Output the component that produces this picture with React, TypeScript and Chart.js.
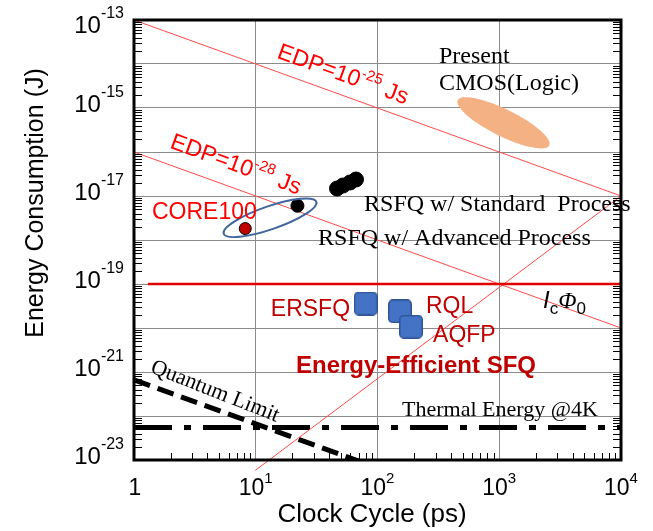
import React, { useEffect, useRef } from "react";
import { Chart, registerables } from "chart.js";

Chart.register(...registerables);

const W = 653;
const H = 531;

// ---- axis decades / tick labels ----
const xDecadeExps = [0, 1, 2, 3, 4];
const yDecadeExps = [-23, -22, -21, -20, -19, -18, -17, -16, -15, -14, -13];
const yLabelExps = [-23, -21, -19, -17, -15, -13];

// ---- reference lines (clock cycle ps, energy J) ----
const edp25X = [1, 1e4];
const edp25Y = [1e-13, 1e-17];
const edp28X = [1, 1e4];
const edp28Y = [1e-16, 1e-20];
const icPhiX = [1.3, 1e4];
const icPhiY = [1e-19, 1e-19];
const riseX = [9.9, 1e4];
const riseY = [5.8e-24, 1e-17];
const thermalX = [1, 1e4];
const thermalY = [5.5e-23, 5.5e-23];
const quantumX = [1, 100];
const quantumY = [6.6e-22, 6.6e-24];

// ---- data points ----
const coreX = [8.2];
const coreY = [1.82e-18];
const rsfqX = [22, 46.5, 52, 59.5, 66.6];
const rsfqY = [6e-18, 1.48e-17, 1.73e-17, 2.03e-17, 2.37e-17];
const effNames = ["ERSFQ", "RQL", "AQFP"];
const effX = [80, 153, 188];
const effY = [3.6e-20, 2.4e-20, 1.07e-20];

// ---- regions (centres in data units) ----
const cmosCenter = [1084, 4.6e-16];
const rsfqRegionCenter = [13.1, 3.2e-18];

const SANS = '"Liberation Sans", Arial, sans-serif';
const SERIF = '"Liberation Serif", "Times New Roman", serif';

type Part = { t: string; font: string; dy: number };

function drawParts(ctx: CanvasRenderingContext2D, parts: Part[], x: number, y: number, align: "left" | "right" | "center") {
  const widths = parts.map((p) => {
    ctx.font = p.font;
    return ctx.measureText(p.t).width;
  });
  const total = widths.reduce((s, w) => s + w, 0);
  let start = align === "left" ? x : align === "right" ? x - total : x - total / 2;
  ctx.textAlign = "left";
  ctx.textBaseline = "alphabetic";
  parts.forEach((p, i) => {
    ctx.font = p.font;
    ctx.fillText(p.t, start, y + p.dy);
    start += widths[i];
  });
}

function zip(xs: number[], ys: number[]) {
  return xs.map((x, i) => ({ x, y: ys[i] }));
}

function makeRoundedSquare(size: number, r: number, fill: string, stroke: string, lw: number) {
  const c = document.createElement("canvas");
  c.width = size;
  c.height = size;
  const g = c.getContext("2d")!;
  g.beginPath();
  (g as any).roundRect(lw / 2, lw / 2, size - lw, size - lw, r);
  g.fillStyle = fill;
  g.fill();
  g.lineWidth = lw;
  g.strokeStyle = stroke;
  g.stroke();
  return c;
}

const overlay = {
  id: "overlay",
  beforeDatasetsDraw(chart: any) {
    const { ctx, scales } = chart;
    const x = scales.x;
    const y = scales.y;
    ctx.save();
    // CMOS region
    ctx.fillStyle = "#F4B183";
    ctx.beginPath();
    ctx.ellipse(x.getPixelForValue(cmosCenter[0]), y.getPixelForValue(cmosCenter[1]), 51, 13.5, (26.3 * Math.PI) / 180, 0, Math.PI * 2);
    ctx.fill();
    ctx.restore();
  },
  afterDatasetsDraw(chart: any) {
    const { ctx, scales } = chart;
    const x = scales.x;
    const y = scales.y;
    ctx.save();
    // RSFQ region outline
    ctx.strokeStyle = "#3F649E";
    ctx.lineWidth = 2;
    ctx.beginPath();
    ctx.ellipse(x.getPixelForValue(rsfqRegionCenter[0]), y.getPixelForValue(rsfqRegionCenter[1]), 49, 11.5, (-19 * Math.PI) / 180, 0, Math.PI * 2);
    ctx.stroke();
    ctx.restore();
  },
  afterDraw(chart: any) {
    const { ctx, chartArea: a, scales } = chart;
    const x = scales.x;
    const y = scales.y;
    const px = (v: number) => x.getPixelForValue(v);
    const py = (v: number) => y.getPixelForValue(v);
    ctx.save();

    // minor ticks
    ctx.strokeStyle = "#000";
    ctx.lineWidth = 1;
    ctx.beginPath();
    for (let e = -23; e < -13; e++) {
      for (let m = 2; m <= 9; m++) {
        const yy = Math.round(py(m * Math.pow(10, e))) + 0.5;
        ctx.moveTo(a.left, yy);
        ctx.lineTo(a.left + 8, yy);
        ctx.moveTo(a.right, yy);
        ctx.lineTo(a.right - 8, yy);
      }
    }
    for (let e = 0; e < 4; e++) {
      for (let m = 2; m <= 9; m++) {
        const xx = Math.round(px(m * Math.pow(10, e))) + 0.5;
        ctx.moveTo(xx, a.bottom);
        ctx.lineTo(xx, a.bottom - 7);
      }
    }
    ctx.stroke();

    // frame
    ctx.lineWidth = 3;
    ctx.strokeStyle = "#000";
    ctx.strokeRect(a.left, a.top, a.right - a.left, a.bottom - a.top);

    // tick labels
    ctx.fillStyle = "#000";
    yLabelExps.forEach((e) => {
      const yy = Math.max(py(Math.pow(10, e)) + 4, a.top + 13);
      drawParts(
        ctx,
        [
          { t: "10", font: `24px ${SANS}`, dy: 0 },
          { t: String(e), font: `16px ${SANS}`, dy: -15 },
        ],
        a.left - 10,
        yy,
        "right"
      );
    });
    xDecadeExps.forEach((e) => {
      const xx = px(Math.pow(10, e));
      if (e === 0) drawParts(ctx, [{ t: "1", font: `23px ${SANS}`, dy: 0 }], xx + 1, a.bottom + 35, "center");
      else
        drawParts(
          ctx,
          [
            { t: "10", font: `23px ${SANS}`, dy: 0 },
            { t: String(e), font: `15px ${SANS}`, dy: -12 },
          ],
          xx,
          a.bottom + 35,
          "center"
        );
    });

    // axis titles
    ctx.font = `26px ${SANS}`;
    ctx.textAlign = "center";
    ctx.textBaseline = "alphabetic";
    ctx.fillText("Clock Cycle (ps)", 372, a.bottom + 62);
    ctx.save();
    ctx.translate(43, 203);
    ctx.rotate(-Math.PI / 2);
    ctx.font = `25px ${SANS}`;
    ctx.fillText("Energy Consumption (J)", 0, 0);
    ctx.restore();

    // annotations
    const red = "#FF0000";
    const dark = "#C00000";
    // EDP labels
    const edpLabel = (vx: number, vy: number, exp: string) => {
      ctx.save();
      ctx.translate(px(vx), py(vy));
      ctx.rotate((20 * Math.PI) / 180);
      ctx.fillStyle = red;
      drawParts(
        ctx,
        [
          { t: "EDP=10", font: `23px ${SANS}`, dy: 0 },
          { t: exp, font: `15px ${SANS}`, dy: -10 },
          { t: " Js", font: `23px ${SANS}`, dy: 0 },
        ],
        0,
        0,
        "left"
      );
      ctx.restore();
    };
    edpLabel(14.7, 1.41e-14, "-25");
    edpLabel(1.94, 1.26e-16, "-28");

    ctx.fillStyle = red;
    drawParts(ctx, [{ t: "CORE100", font: `23px ${SANS}`, dy: 0 }], px(1.405), py(3.08e-18), "left");

    ctx.fillStyle = "#000";
    drawParts(ctx, [{ t: "Present", font: `24px ${SERIF}`, dy: 0 }], px(320), py(1.08e-14), "left");
    drawParts(ctx, [{ t: "CMOS(Logic)", font: `24px ${SERIF}`, dy: 0 }], px(320), py(2.5e-15), "left");
    drawParts(ctx, [{ t: "RSFQ w/ Standard  Process", font: `24px ${SERIF}`, dy: 0 }], px(77.5), py(4.45e-18), "left");
    drawParts(ctx, [{ t: "RSFQ w/ Advanced Process", font: `24px ${SERIF}`, dy: 0 }], px(32.5), py(7.5e-19), "left");
    drawParts(ctx, [{ t: "Thermal Energy @4K", font: `22px ${SERIF}`, dy: 0 }], px(159), py(9.75e-23), "left");

    // quantum limit
    ctx.save();
    ctx.translate(px(4.63), py(3.6e-22));
    ctx.rotate((21.5 * Math.PI) / 180);
    ctx.font = `22px ${SERIF}`;
    ctx.textAlign = "center";
    ctx.textBaseline = "middle";
    ctx.fillText("Quantum Limit", 0, 0);
    ctx.restore();

    ctx.fillStyle = dark;
    drawParts(ctx, [{ t: effNames[0], font: `23px ${SANS}`, dy: 0 }], px(59.5), py(1.92e-20), "right");
    drawParts(ctx, [{ t: effNames[1], font: `23px ${SANS}`, dy: 0 }], px(250), py(2.14e-20), "left");
    drawParts(ctx, [{ t: effNames[2], font: `23px ${SANS}`, dy: 0 }], px(286), py(4.93e-21), "left");
    drawParts(ctx, [{ t: "Energy-Efficient SFQ", font: `bold 24px ${SANS}`, dy: 0 }], px(21.4), py(9.25e-22), "left");

    // Ic Phi0
    ctx.fillStyle = "#000";
    drawParts(
      ctx,
      [
        { t: "I", font: `italic 24px ${SANS}`, dy: 0 },
        { t: "c", font: `17px ${SANS}`, dy: 6 },
        { t: "\u03A6", font: `italic 24px ${SERIF}`, dy: 0 },
        { t: "0", font: `17px ${SANS}`, dy: 6 },
      ],
      px(2287),
      py(2.92e-20),
      "left"
    );

    ctx.restore();
  },
};

export default function App() {
  const ref = useRef<HTMLCanvasElement | null>(null);
  useEffect(() => {
    if (!ref.current) return;
    const sq = makeRoundedSquare(24, 4, "#4472C4", "#2F5597", 1.5);
    const lineDs = (label: string, xs: number[], ys: number[], color: string, width: number, extra: any = {}) => ({
      label,
      data: zip(xs, ys),
      showLine: true,
      borderColor: color,
      backgroundColor: color,
      borderWidth: width,
      pointRadius: 0,
      ...extra,
    });
    const chart = new Chart(ref.current, {
      type: "scatter",
      data: {
        datasets: [
          {
            label: "Energy-efficient SFQ",
            data: zip(effX, effY),
            pointStyle: sq as any,
            pointRadius: 12,
          },
          {
            label: "CORE100",
            data: zip(coreX, coreY),
            backgroundColor: "#C00000",
            borderColor: "#000",
            borderWidth: 1,
            pointRadius: 6,
          },
          {
            label: "RSFQ",
            data: zip(rsfqX, rsfqY),
            backgroundColor: "#000",
            borderColor: "#000",
            borderWidth: 1,
            pointRadius: (c: any) => (c.dataIndex === 0 ? 6.5 : 7.5),
          },
          lineDs("IcPhi0", icPhiX, icPhiY, "#E00000", 2.5),
          lineDs("EDP 1e-25", edp25X, edp25Y, "#FF4A4A", 1),
          lineDs("EDP 1e-28", edp28X, edp28Y, "#FF4A4A", 1),
          lineDs("rise", riseX, riseY, "#FF4A4A", 1, { clip: false }),
          lineDs("Quantum limit", quantumX, quantumY, "#000", 5, { borderDash: [17, 8] }),
          lineDs("Thermal", thermalX, thermalY, "#000", 5, { borderDash: [38, 12, 7, 12] }),
        ],
      },
      options: {
        responsive: false,
        animation: false,
        devicePixelRatio: 1,
        layout: { padding: { left: 134, right: 32, top: 20, bottom: 71 } },
        plugins: { legend: { display: false }, tooltip: { enabled: false }, title: { display: false } },
        scales: {
          x: {
            type: "logarithmic",
            min: 1,
            max: 1e4,
            afterBuildTicks: (s: any) => {
              s.ticks = xDecadeExps.map((e) => ({ value: Math.pow(10, e) }));
            },
            ticks: { display: false },
            grid: { color: "#8C8C8C", lineWidth: 1, drawTicks: false },
            border: { display: false },
          },
          y: {
            type: "logarithmic",
            min: 1e-23,
            max: 1e-13,
            afterBuildTicks: (s: any) => {
              s.ticks = yDecadeExps.map((e) => ({ value: Math.pow(10, e) }));
            },
            ticks: { display: false },
            grid: { color: "#8C8C8C", lineWidth: 1, drawTicks: false },
            border: { display: false },
          },
        },
      },
      plugins: [overlay as any],
    });
    return () => chart.destroy();
  }, []);
  return (
    <div style={{ position: "fixed", left: 0, top: 0, width: W, height: H, background: "#fff" }}>
      <canvas ref={ref} width={W} height={H} style={{ width: W, height: H, display: "block" }} />
    </div>
  );
}
